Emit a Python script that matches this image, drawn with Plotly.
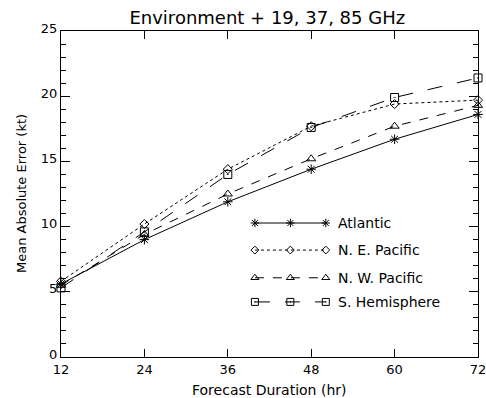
import plotly.graph_objects as go

hours = [12, 24, 36, 48, 60, 72]
atlantic = [5.6, 9.0, 11.9, 14.4, 16.7, 18.6]
ne_pacific = [5.8, 10.2, 14.4, 17.7, 19.4, 19.7]
nw_pacific = [5.5, 9.4, 12.5, 15.2, 17.7, 19.3]
s_hemisphere = [5.3, 9.6, 14.0, 17.6, 19.9, 21.4]

names = ["Atlantic", "N. E. Pacific", "N. W. Pacific", "S. Hemisphere"]
series = [atlantic, ne_pacific, nw_pacific, s_hemisphere]
dashes = ["solid", "dot", "dash", "longdash"]
symbols = ["asterisk-open", "diamond-open", "triangle-up-open", "square-open-dot"]
sizes = [8, 7, 8, 8]

x_ticks = [12, 24, 36, 48, 60, 72]
y_ticks = [0, 5, 10, 15, 20, 25]

FONT = "DejaVu Sans"
fig = go.Figure()

for nm, vals, d, s, sz in zip(names, series, dashes, symbols, sizes):
    fig.add_trace(go.Scatter(
        x=hours, y=vals, mode="lines+markers", name=nm, showlegend=False,
        cliponaxis=False,
        line=dict(color="black", width=1, dash=d),
        marker=dict(symbol=s, size=sz, color="black", line=dict(width=1, color="black")),
    ))

# Custom legend samples (three markers per line, like the original)
leg_y = [0.411, 0.328, 0.243, 0.169]
for nm, d, s, sz, ly in zip(names, dashes, symbols, sizes, leg_y):
    fig.add_trace(go.Scatter(
        x=[0, 0.5, 1], y=[ly, ly, ly], mode="lines+markers", showlegend=False,
        xaxis="x2", yaxis="y2", hoverinfo="skip", cliponaxis=False,
        line=dict(color="black", width=1, dash=d),
        marker=dict(symbol=s, size=sz - 1, color="black", line=dict(width=1, color="black")),
    ))
    fig.add_annotation(x=0.66, y=ly, xref="paper", yref="paper", text=nm,
                       showarrow=False, xanchor="left", yanchor="middle",
                       font=dict(family=FONT, size=14, color="black"))

# Axis titles as annotations
fig.add_annotation(x=0.5, y=0, xref="paper", yref="paper", yshift=-33,
                   text="Forecast Duration (hr)", showarrow=False,
                   xanchor="center", yanchor="middle",
                   font=dict(family=FONT, size=14, color="black"))
fig.add_annotation(x=0, y=0.5, xref="paper", yref="paper", xshift=-40,
                   text="Mean Absolute Error (kt)", showarrow=False, textangle=-90,
                   xanchor="center", yanchor="middle",
                   font=dict(family=FONT, size=13, color="black"))

fig.update_layout(
    width=486, height=398,
    margin=dict(l=61, r=8, t=31, b=41, autoexpand=False),
    paper_bgcolor="white", plot_bgcolor="rgba(0,0,0,0)",
    font=dict(family=FONT, size=13, color="black"),
    title=dict(text="Environment + 19, 37, 85 GHz", x=0.55, xanchor="center",
               y=0.955, yanchor="middle", font=dict(family=FONT, size=18, color="black")),
    xaxis=dict(range=[12, 72], tickvals=x_ticks, ticktext=[str(v) for v in x_ticks],
               ticks="inside", ticklen=8, tickcolor="black", showline=True,
               linecolor="black", linewidth=1, mirror="allticks", showgrid=False,
               zeroline=False, automargin=False, ticklabeloverflow="allow",
               tickfont=dict(family=FONT, size=13)),
    yaxis=dict(range=[0, 25], tickvals=y_ticks, ticks="inside", ticklen=9,
               tickcolor="black", showline=True, linecolor="black", linewidth=1,
               mirror="allticks", showgrid=False, zeroline=False, automargin=False,
               ticklabelshift=-3,
               minor=dict(dtick=1, ticks="inside", ticklen=5, tickcolor="black", showgrid=False),
               tickfont=dict(family=FONT, size=13)),
    xaxis2=dict(domain=[0.465, 0.635], range=[0, 1], visible=False, anchor="y2"),
    yaxis2=dict(domain=[0, 1], range=[0, 1], visible=False, anchor="x2", overlaying="y"),
)

fig.write_html("out.html", config={"displayModeBar": False},
               post_script="document.body.style.margin='0px';")
